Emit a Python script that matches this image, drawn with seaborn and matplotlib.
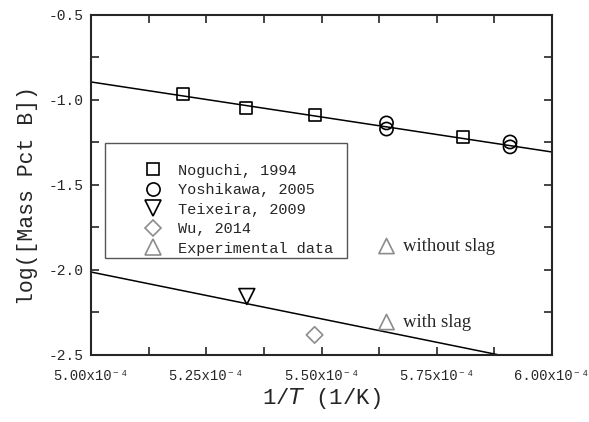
import numpy as np
import matplotlib
matplotlib.use("Agg")
import matplotlib.pyplot as plt
from matplotlib.ticker import MultipleLocator, FuncFormatter
from matplotlib.lines import Line2D
from matplotlib.patches import Rectangle
import seaborn as sns

# 1/T values in units of 1e-4 (1/K), log of mass pct B
noguchi_x = [5.20, 5.337, 5.485, 5.807]
noguchi_y = [-0.965, -1.047, -1.088, -1.218]
yoshikawa_x = [5.641, 5.641, 5.909, 5.909]
yoshikawa_y = [-1.135, -1.171, -1.247, -1.276]
teixeira_x = [5.338]
teixeira_y = [-2.156]
wu_x = [5.485]
wu_y = [-2.382]
exp_x = [5.641, 5.641]
exp_y = [-1.859, -2.306]
exp_labels = ["without slag", "with slag"]

# fitted lines (end points)
fit_x = [5.0, 6.0]
fit_upper_y = [-0.894, -1.306]
fit_lower_y = [-2.012, -2.563]

sns.set_style("ticks")
plt.rcParams["font.family"] = ["Liberation Mono", "DejaVu Sans Mono"]
plt.rcParams["axes.unicode_minus"] = False

fig = plt.figure(figsize=(5.89, 4.22), dpi=100)
ax = fig.add_axes([0.1545, 0.1588, 0.7827, 0.8057])

sns.lineplot(x=fit_x, y=fit_upper_y, color="black", linewidth=1.1, ax=ax)
sns.lineplot(x=fit_x, y=fit_lower_y, color="black", linewidth=1.1, ax=ax)

black = "black"
grey = "#8c8c8c"
pts = [
    (noguchi_x, noguchi_y, "s", 75, black, "Noguchi, 1994"),
    (yoshikawa_x, yoshikawa_y, "o", 90, black, "Yoshikawa, 2005"),
    (teixeira_x, teixeira_y, "v", 130, black, "Teixeira, 2009"),
    (wu_x, wu_y, "D", 70, grey, "Wu, 2014"),
    (exp_x, exp_y, "^", 120, grey, "Experimental data"),
]
handles = []
for xs, ys, mk, size, col, lab in pts:
    sns.scatterplot(x=xs, y=ys, marker=mk, s=size, facecolor="none",
                    edgecolor=col, linewidth=1.2, ax=ax, zorder=3)
    handles.append(Line2D([], [], linestyle="none", marker=mk,
                          markersize=np.sqrt(size), markerfacecolor="none",
                          markeredgecolor=col, markeredgewidth=1.2, label=lab))

for xv, yv, lab in zip(exp_x, exp_y, exp_labels):
    ax.text(xv + 0.035, yv, lab, family="Liberation Serif", fontsize=13.5,
            ha="left", va="center")

ax.set_xlim(5.0, 6.0)
ax.set_ylim(-2.5, -0.5)
ax.xaxis.set_major_locator(MultipleLocator(0.25))
ax.xaxis.set_minor_locator(MultipleLocator(0.125))
ax.yaxis.set_major_locator(MultipleLocator(0.5))
ax.yaxis.set_minor_locator(MultipleLocator(0.25))
ax.xaxis.set_major_formatter(FuncFormatter(lambda v, p: f"{v:.2f}x10\u207b\u2074"))
ax.yaxis.set_major_formatter(FuncFormatter(lambda v, p: f"{v:.1f}"))
ax.tick_params(which="both", direction="in", length=6, width=1.2,
               top=True, right=True, labelsize=10.5)
ax.tick_params(axis="x", pad=10, labelsize=10)
ax.tick_params(axis="y", pad=5)

for sp in ax.spines.values():
    sp.set_linewidth(1.5)

ax.set_xlabel("1/$\\it{T}$ (1/K)", fontsize=16, labelpad=2)
ax.set_ylabel("log([Mass Pct B])", fontsize=15.5, labelpad=4)
ax.yaxis.set_label_coords(-0.115, 0.47)

# legend frame drawn as a separate box, entries without frame
ax.add_patch(Rectangle((0.030, 0.285), 0.525, 0.339, transform=ax.transAxes,
                       facecolor="white", edgecolor="#555555", linewidth=1.0,
                       zorder=2.5))
leg = ax.legend(handles=handles, loc="upper left",
                bbox_to_anchor=(0.108, 0.563), fontsize=11,
                frameon=False, borderpad=0, labelspacing=0.36,
                handletextpad=0.85, handlelength=1.6, borderaxespad=0)
leg.set_zorder(4)

fig.savefig("out.png", dpi=100)
